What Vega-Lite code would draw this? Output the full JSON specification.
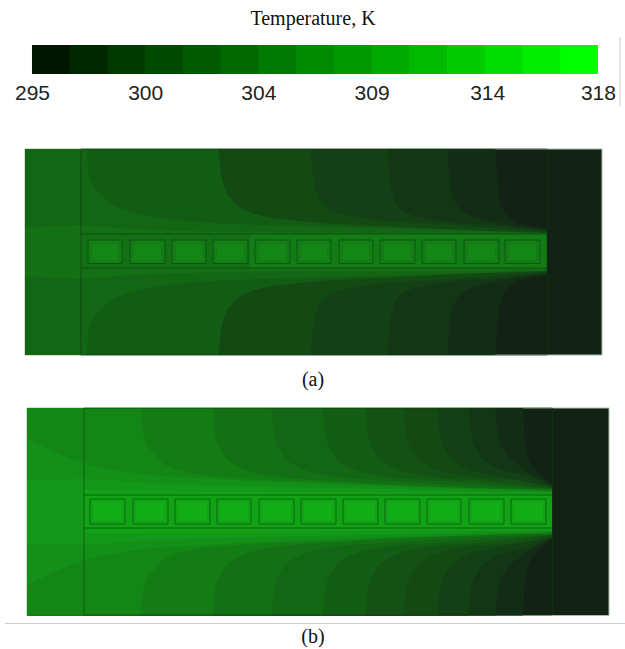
{
"$schema":"https://vega.github.io/schema/vega-lite/v6.json",
"width":625,"height":649,"padding":0,"autosize":{"type":"none"},"background":"white",
"config":{"view":{"stroke":null}},
"datasets":{
"rects":[
{"p":"a","part":"strip","T":304,"x":81,"x2":547,"y":234,"y2":268},
{"p":"a","part":"strip","T":305,"x":250,"x2":547,"y":234,"y2":268},
{"p":"b","part":"strip","T":309,"x":84,"x2":552,"y":495,"y2":528},
{"p":"a","part":"outer","T":305,"x":88,"x2":122,"y":240,"y2":263.5},{"p":"a","part":"outer","T":305,"x":130,"x2":165,"y":240,"y2":263.5},{"p":"a","part":"outer","T":305,"x":172,"x2":206,"y":240,"y2":263.5},{"p":"a","part":"outer","T":305,"x":213,"x2":248,"y":240,"y2":263.5},{"p":"a","part":"outer","T":305,"x":255,"x2":290,"y":240,"y2":263.5},{"p":"a","part":"outer","T":305,"x":297,"x2":331,"y":240,"y2":263.5},{"p":"a","part":"outer","T":305,"x":339,"x2":373,"y":240,"y2":263.5},{"p":"a","part":"outer","T":305,"x":380,"x2":415,"y":240,"y2":263.5},{"p":"a","part":"outer","T":305,"x":422,"x2":456,"y":240,"y2":263.5},{"p":"a","part":"outer","T":305,"x":464,"x2":499,"y":240,"y2":263.5},{"p":"a","part":"outer","T":305,"x":505,"x2":540,"y":240,"y2":263.5},
{"p":"b","part":"outer","T":309,"x":90,"x2":125,"y":499,"y2":524},{"p":"b","part":"outer","T":309,"x":133,"x2":168,"y":499,"y2":524},{"p":"b","part":"outer","T":309,"x":175,"x2":210,"y":499,"y2":524},{"p":"b","part":"outer","T":309,"x":217,"x2":251,"y":499,"y2":524},{"p":"b","part":"outer","T":309,"x":259,"x2":294,"y":499,"y2":524},{"p":"b","part":"outer","T":309,"x":301,"x2":336,"y":499,"y2":524},{"p":"b","part":"outer","T":309,"x":343,"x2":378,"y":499,"y2":524},{"p":"b","part":"outer","T":309,"x":385,"x2":420,"y":499,"y2":524},{"p":"b","part":"outer","T":309,"x":427,"x2":461,"y":499,"y2":524},{"p":"b","part":"outer","T":309,"x":469,"x2":504,"y":499,"y2":524},{"p":"b","part":"outer","T":309,"x":511,"x2":546,"y":499,"y2":524},
{"p":"a","part":"inner","T":306,"x":92,"x2":118,"y":244,"y2":260},{"p":"a","part":"inner","T":306,"x":134,"x2":161,"y":244,"y2":260},{"p":"a","part":"inner","T":306,"x":176,"x2":202,"y":244,"y2":260},{"p":"a","part":"inner","T":306,"x":217,"x2":244,"y":244,"y2":260},{"p":"a","part":"inner","T":306,"x":259,"x2":286,"y":244,"y2":260},{"p":"a","part":"inner","T":306,"x":301,"x2":327,"y":244,"y2":260},{"p":"a","part":"inner","T":306,"x":343,"x2":369,"y":244,"y2":260},{"p":"a","part":"inner","T":306,"x":384,"x2":411,"y":244,"y2":260},{"p":"a","part":"inner","T":306,"x":426,"x2":452,"y":244,"y2":260},{"p":"a","part":"inner","T":306,"x":468,"x2":495,"y":244,"y2":260},{"p":"a","part":"inner","T":306,"x":509,"x2":536,"y":244,"y2":260},
{"p":"b","part":"inner","T":310,"x":93,"x2":122,"y":502,"y2":521},{"p":"b","part":"inner","T":310,"x":136,"x2":165,"y":502,"y2":521},{"p":"b","part":"inner","T":310,"x":178,"x2":207,"y":502,"y2":521},{"p":"b","part":"inner","T":310,"x":220,"x2":248,"y":502,"y2":521},{"p":"b","part":"inner","T":310,"x":262,"x2":291,"y":502,"y2":521},{"p":"b","part":"inner","T":310,"x":304,"x2":333,"y":502,"y2":521},{"p":"b","part":"inner","T":310,"x":346,"x2":375,"y":502,"y2":521},{"p":"b","part":"inner","T":310,"x":388,"x2":417,"y":502,"y2":521},{"p":"b","part":"inner","T":310,"x":430,"x2":458,"y":502,"y2":521},{"p":"b","part":"inner","T":310,"x":472,"x2":501,"y":502,"y2":521},{"p":"b","part":"inner","T":310,"x":514,"x2":543,"y":502,"y2":521}
],
"contours":[
{"p":"a","T":297,"x":25,"y":149,"y2":355},{"p":"a","T":297,"x":495,"y":149,"y2":355},{"p":"a","T":297,"x":498,"y":185,"y2":319},{"p":"a","T":297,"x":502,"y":208,"y2":296},{"p":"a","T":297,"x":515,"y":221,"y2":283},{"p":"a","T":297,"x":530,"y":226,"y2":278},{"p":"a","T":297,"x":547,"y":228,"y2":276},
{"p":"a","T":298,"x":25,"y":149,"y2":355},{"p":"a","T":298,"x":447,"y":149,"y2":355},{"p":"a","T":298,"x":450,"y":180,"y2":324},{"p":"a","T":298,"x":455,"y":202,"y2":302},{"p":"a","T":298,"x":470,"y":215,"y2":289},{"p":"a","T":298,"x":500,"y":223,"y2":281},{"p":"a","T":298,"x":547,"y":229.5,"y2":274.5},
{"p":"a","T":299,"x":25,"y":149,"y2":355},{"p":"a","T":299,"x":387,"y":149,"y2":355},{"p":"a","T":299,"x":390,"y":180,"y2":324},{"p":"a","T":299,"x":396,"y":203,"y2":301},{"p":"a","T":299,"x":412,"y":215,"y2":289},{"p":"a","T":299,"x":450,"y":222,"y2":282},{"p":"a","T":299,"x":500,"y":226,"y2":278},{"p":"a","T":299,"x":547,"y":231,"y2":273},
{"p":"a","T":300,"x":25,"y":149,"y2":355},{"p":"a","T":300,"x":310,"y":149,"y2":355},{"p":"a","T":300,"x":313,"y":175,"y2":329},{"p":"a","T":300,"x":320,"y":200,"y2":304},{"p":"a","T":300,"x":335,"y":212,"y2":292},{"p":"a","T":300,"x":380,"y":220,"y2":284},{"p":"a","T":300,"x":450,"y":225,"y2":279},{"p":"a","T":300,"x":547,"y":232,"y2":272},
{"p":"a","T":302,"x":25,"y":149,"y2":355},{"p":"a","T":302,"x":218,"y":149,"y2":355},{"p":"a","T":302,"x":221,"y":175,"y2":329},{"p":"a","T":302,"x":232,"y":200,"y2":304},{"p":"a","T":302,"x":255,"y":214,"y2":290},{"p":"a","T":302,"x":300,"y":221,"y2":283},{"p":"a","T":302,"x":400,"y":227,"y2":277},{"p":"a","T":302,"x":547,"y":233,"y2":271},
{"p":"a","T":303,"x":25,"y":149,"y2":355},{"p":"a","T":303,"x":87,"y":149,"y2":355},{"p":"a","T":303,"x":89,"y":175,"y2":329},{"p":"a","T":303,"x":105,"y":198,"y2":306},{"p":"a","T":303,"x":133,"y":212,"y2":292},{"p":"a","T":303,"x":200,"y":222,"y2":282},{"p":"a","T":303,"x":300,"y":226,"y2":278},{"p":"a","T":303,"x":450,"y":230,"y2":274},{"p":"a","T":303,"x":547,"y":233.5,"y2":270.5},
{"p":"a","T":304,"x":25,"y":228,"y2":276},{"p":"a","T":304,"x":81,"y":225,"y2":279},{"p":"a","T":304,"x":130,"y":229,"y2":275},{"p":"a","T":304,"x":245,"y":232,"y2":272},{"p":"a","T":304,"x":400,"y":233,"y2":271},{"p":"a","T":304,"x":547,"y":233.5,"y2":270.5},
{"p":"b","T":297,"x":27,"y":408,"y2":615.5},{"p":"b","T":297,"x":523,"y":408,"y2":615.5},{"p":"b","T":297,"x":525,"y":440,"y2":583.5},{"p":"b","T":297,"x":530,"y":462,"y2":561.5},{"p":"b","T":297,"x":540,"y":474,"y2":549.5},{"p":"b","T":297,"x":552,"y":484,"y2":539.5},
{"p":"b","T":298,"x":27,"y":408,"y2":615.5},{"p":"b","T":298,"x":495,"y":408,"y2":615.5},{"p":"b","T":298,"x":498,"y":433,"y2":590.5},{"p":"b","T":298,"x":505,"y":452,"y2":571.5},{"p":"b","T":298,"x":520,"y":466,"y2":557.5},{"p":"b","T":298,"x":552,"y":485,"y2":538.5},
{"p":"b","T":299,"x":27,"y":408,"y2":615.5},{"p":"b","T":299,"x":468,"y":408,"y2":615.5},{"p":"b","T":299,"x":471,"y":433,"y2":590.5},{"p":"b","T":299,"x":478,"y":452,"y2":571.5},{"p":"b","T":299,"x":493,"y":466,"y2":557.5},{"p":"b","T":299,"x":528,"y":476,"y2":547.5},{"p":"b","T":299,"x":552,"y":486,"y2":537.5},
{"p":"b","T":300,"x":27,"y":408,"y2":615.5},{"p":"b","T":300,"x":437,"y":408,"y2":615.5},{"p":"b","T":300,"x":440,"y":433,"y2":590.5},{"p":"b","T":300,"x":447,"y":452,"y2":571.5},{"p":"b","T":300,"x":462,"y":466,"y2":557.5},{"p":"b","T":300,"x":497,"y":476,"y2":547.5},{"p":"b","T":300,"x":552,"y":487,"y2":536.5},
{"p":"b","T":301,"x":27,"y":408,"y2":615.5},{"p":"b","T":301,"x":403,"y":408,"y2":615.5},{"p":"b","T":301,"x":406,"y":433,"y2":590.5},{"p":"b","T":301,"x":413,"y":452,"y2":571.5},{"p":"b","T":301,"x":428,"y":466,"y2":557.5},{"p":"b","T":301,"x":463,"y":476,"y2":547.5},{"p":"b","T":301,"x":523,"y":481,"y2":542.5},{"p":"b","T":301,"x":552,"y":488,"y2":535.5},
{"p":"b","T":302,"x":27,"y":408,"y2":615.5},{"p":"b","T":302,"x":365,"y":408,"y2":615.5},{"p":"b","T":302,"x":368,"y":433,"y2":590.5},{"p":"b","T":302,"x":375,"y":452,"y2":571.5},{"p":"b","T":302,"x":390,"y":466,"y2":557.5},{"p":"b","T":302,"x":425,"y":476,"y2":547.5},{"p":"b","T":302,"x":485,"y":481,"y2":542.5},{"p":"b","T":302,"x":552,"y":488.5,"y2":535},
{"p":"b","T":303,"x":27,"y":408,"y2":615.5},{"p":"b","T":303,"x":322,"y":408,"y2":615.5},{"p":"b","T":303,"x":325,"y":433,"y2":590.5},{"p":"b","T":303,"x":332,"y":452,"y2":571.5},{"p":"b","T":303,"x":347,"y":466,"y2":557.5},{"p":"b","T":303,"x":382,"y":476,"y2":547.5},{"p":"b","T":303,"x":442,"y":481,"y2":542.5},{"p":"b","T":303,"x":552,"y":489,"y2":534.5},
{"p":"b","T":304,"x":27,"y":408,"y2":615.5},{"p":"b","T":304,"x":271,"y":408,"y2":615.5},{"p":"b","T":304,"x":274,"y":433,"y2":590.5},{"p":"b","T":304,"x":281,"y":452,"y2":571.5},{"p":"b","T":304,"x":296,"y":466,"y2":557.5},{"p":"b","T":304,"x":331,"y":476,"y2":547.5},{"p":"b","T":304,"x":391,"y":481,"y2":542.5},{"p":"b","T":304,"x":552,"y":489.5,"y2":534},
{"p":"b","T":305,"x":27,"y":408,"y2":615.5},{"p":"b","T":305,"x":212,"y":408,"y2":615.5},{"p":"b","T":305,"x":215,"y":433,"y2":590.5},{"p":"b","T":305,"x":222,"y":452,"y2":571.5},{"p":"b","T":305,"x":237,"y":466,"y2":557.5},{"p":"b","T":305,"x":272,"y":476,"y2":547.5},{"p":"b","T":305,"x":332,"y":481,"y2":542.5},{"p":"b","T":305,"x":552,"y":490,"y2":533.5},
{"p":"b","T":306,"x":27,"y":408,"y2":615.5},{"p":"b","T":306,"x":140,"y":408,"y2":615.5},{"p":"b","T":306,"x":143,"y":433,"y2":590.5},{"p":"b","T":306,"x":157,"y":457,"y2":566.5},{"p":"b","T":306,"x":177,"y":470,"y2":553.5},{"p":"b","T":306,"x":233,"y":478,"y2":545.5},{"p":"b","T":306,"x":320,"y":482,"y2":541.5},{"p":"b","T":306,"x":552,"y":491,"y2":532.5},
{"p":"b","T":307,"x":27,"y":438,"y2":585.5},{"p":"b","T":307,"x":84,"y":463,"y2":560.5},{"p":"b","T":307,"x":120,"y":471,"y2":552.5},{"p":"b","T":307,"x":200,"y":478,"y2":545.5},{"p":"b","T":307,"x":300,"y":483,"y2":540.5},{"p":"b","T":307,"x":552,"y":491.5,"y2":532},
{"p":"b","T":308,"x":27,"y":480,"y2":543.5},{"p":"b","T":308,"x":84,"y":479,"y2":544.5},{"p":"b","T":308,"x":150,"y":483,"y2":540.5},{"p":"b","T":308,"x":300,"y":487,"y2":536.5},{"p":"b","T":308,"x":552,"y":492.5,"y2":531},
{"p":"b","T":309,"x":84,"y":490,"y2":533.5},{"p":"b","T":309,"x":300,"y":492,"y2":531.5},{"p":"b","T":309,"x":552,"y":494,"y2":529.5}
],
"lines":[
{"x":81,"x2":81,"y":149,"y2":355},{"x":547,"x2":547,"y":149,"y2":355},{"x":81,"x2":547,"y":234,"y2":234},{"x":81,"x2":547,"y":268,"y2":268},{"x":81,"x2":547,"y":149,"y2":149},{"x":81,"x2":547,"y":355,"y2":355},
{"x":84,"x2":84,"y":408,"y2":615},{"x":552.5,"x2":552.5,"y":408,"y2":615},{"x":84,"x2":552,"y":495,"y2":495},{"x":84,"x2":552,"y":528,"y2":528},{"x":84,"x2":552,"y":408,"y2":408},{"x":84,"x2":552,"y":615,"y2":615}
]
},
"resolve":{"scale":{"x":"independent","color":"independent"},"axis":{"x":"independent"}},
"layer":[
 {"data":{"values":[{"a":295,"b":296.58},{"a":296.533,"b":298.11},{"a":298.067,"b":299.64},{"a":299.6,"b":301.17},{"a":301.133,"b":302.71},{"a":302.667,"b":304.24},{"a":304.2,"b":305.77},{"a":305.733,"b":307.31},{"a":307.267,"b":308.84},{"a":308.8,"b":310.37},{"a":310.333,"b":311.91},{"a":311.867,"b":313.44},{"a":313.4,"b":314.97},{"a":314.933,"b":316.51},{"a":316.467,"b":318}]},
  "mark":{"type":"rect","stroke":null},
  "encoding":{
   "x":{"field":"a","type":"quantitative","scale":{"domain":[293.7,319.1],"nice":false,"zero":false},
    "axis":{"orient":"bottom","offset":-567,"values":[295,299.6,304.2,308.8,313.5,318],"format":".0f","grid":false,"domain":false,"ticks":false,"title":null,"labelPadding":0,"labelFont":"Liberation Sans","labelFontSize":21,"labelColor":"#222222","labelOverlap":false,"labelBaseline":"top","labelFlush":false}},
   "x2":{"field":"b"},
   "y":{"datum":45,"type":"quantitative","scale":{"domain":[649,0],"nice":false,"zero":false},"axis":null},
   "y2":{"datum":74},
   "color":{"field":"a","type":"ordinal","legend":null,"scale":{"range":["#001600","#002800","#003a00","#004a00","#005a00","#006a00","#007a00","#008a00","#009a00","#00aa00","#00ba00","#00cc00","#00dd00","#00ee00","#00ff00"]}}
  }},
 {"data":{"values":[{"p":"a","T":296,"x":25,"x2":602,"y":149,"y2":355},{"p":"b","T":296,"x":27,"x2":609,"y":408,"y2":615.5}]},
  "mark":{"type":"rect","stroke":"#a8bca8","strokeWidth":1},
  "encoding":{"x":{"field":"x","type":"quantitative","scale":{"domain":[0,625],"nice":false,"zero":false},"axis":null},"x2":{"field":"x2"},"y":{"field":"y","type":"quantitative","scale":{"domain":[649,0],"nice":false,"zero":false},"axis":null},"y2":{"field":"y2"},
   "color":{"field":"T","type":"ordinal","legend":null,"scale":{"domain":[296,297,298,299,300,301,302,303,304,305,306,307,308,309,310],"range":["#122315","#132c15","#133615","#134015","#134a14","#135214","#135c14","#136614","#137015","#137c15","#138616","#129018","#14981a","#12a216","#12ac16"]}}}},
 {"data":{"name":"contours"},
  "mark":{"type":"area","orient":"vertical","interpolate":"monotone"},
  "encoding":{"x":{"field":"x","type":"quantitative","scale":{"domain":[0,625],"nice":false,"zero":false},"axis":null},"y":{"field":"y","type":"quantitative","scale":{"domain":[649,0],"nice":false,"zero":false},"axis":null},"y2":{"field":"y2"},"detail":{"field":"p"},
   "color":{"field":"T","type":"ordinal","legend":null,"scale":{"domain":[296,297,298,299,300,301,302,303,304,305,306,307,308,309,310],"range":["#122315","#132c15","#133615","#134015","#134a14","#135214","#135c14","#136614","#137015","#137c15","#138616","#129018","#14981a","#12a216","#12ac16"]}}}},
 {"data":{"name":"rects"},
  "mark":{"type":"rect"},
  "encoding":{"x":{"field":"x","type":"quantitative","scale":{"domain":[0,625],"nice":false,"zero":false},"axis":null},"x2":{"field":"x2"},"y":{"field":"y","type":"quantitative","scale":{"domain":[649,0],"nice":false,"zero":false},"axis":null},"y2":{"field":"y2"},
   "color":{"field":"T","type":"ordinal","legend":null,"scale":{"domain":[296,297,298,299,300,301,302,303,304,305,306,307,308,309,310],"range":["#122315","#132c15","#133615","#134015","#134a14","#135214","#135c14","#136614","#137015","#137c15","#138616","#129018","#14981a","#12a216","#12ac16"]}}}},
 {"data":{"name":"rects"},"transform":[{"filter":"datum.part==='outer'"}],
  "mark":{"type":"rect","filled":false,"stroke":"#0a3d0e","strokeOpacity":0.55,"strokeWidth":1},
  "encoding":{"x":{"field":"x","type":"quantitative","scale":{"domain":[0,625],"nice":false,"zero":false},"axis":null},"x2":{"field":"x2"},"y":{"field":"y","type":"quantitative","scale":{"domain":[649,0],"nice":false,"zero":false},"axis":null},"y2":{"field":"y2"}}},
 {"data":{"name":"lines"},
  "mark":{"type":"rule","stroke":"#0a3a0e","strokeOpacity":0.6,"strokeWidth":1},
  "encoding":{"x":{"field":"x","type":"quantitative","scale":{"domain":[0,625],"nice":false,"zero":false},"axis":null},"x2":{"field":"x2"},"y":{"field":"y","type":"quantitative","scale":{"domain":[649,0],"nice":false,"zero":false},"axis":null},"y2":{"field":"y2"}}},
 {"data":{"values":[{"x":5,"x2":625,"y":623.5,"y2":623.5},{"x":620,"x2":620,"y":37,"y2":106}]},
  "mark":{"type":"rule","stroke":"#cfcfcf","strokeWidth":1},
  "encoding":{"x":{"field":"x","type":"quantitative","scale":{"domain":[0,625],"nice":false,"zero":false},"axis":null},"x2":{"field":"x2"},"y":{"field":"y","type":"quantitative","scale":{"domain":[649,0],"nice":false,"zero":false},"axis":null},"y2":{"field":"y2"}}},
 {"data":{"values":[{"x":313,"y":19,"label":"Temperature, K"},{"x":313,"y":380,"label":"(a)"},{"x":313,"y":637,"label":"(b)"}]},
  "mark":{"type":"text","font":"Liberation Serif","fontSize":20,"color":"#111111","align":"center","baseline":"middle"},
  "encoding":{"x":{"field":"x","type":"quantitative","scale":{"domain":[0,625],"nice":false,"zero":false},"axis":null},"y":{"field":"y","type":"quantitative","scale":{"domain":[649,0],"nice":false,"zero":false},"axis":null},"text":{"field":"label"}}}
]}
